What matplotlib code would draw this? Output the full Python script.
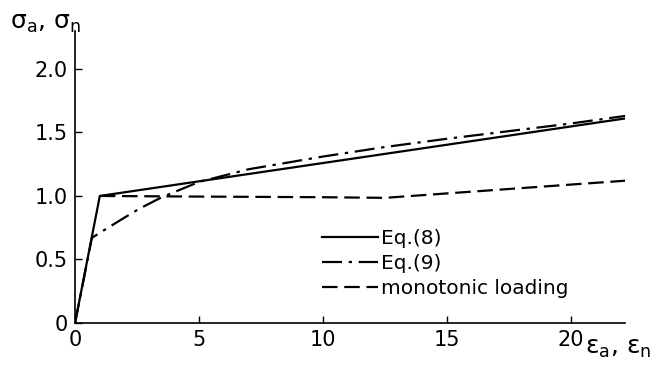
import matplotlib
matplotlib.use("Agg")
import matplotlib.pyplot as plt

# curve values
eq8_x = [0, 1.0, 22.2]
eq8_y = [0, 1.0, 1.61]

eq9_x = [0, 0.68, 1.0, 1.5, 2.0, 2.6, 3.4, 4.0, 5.0, 6.0, 7.0, 8.5, 10, 12.5, 15, 17.5, 20, 22.2]
eq9_y = [0, 0.67, 0.71, 0.77, 0.83, 0.90, 0.98, 1.03, 1.11, 1.16, 1.21, 1.26, 1.31, 1.385, 1.45, 1.51, 1.57, 1.63]

mono_x = [1.0, 5, 10, 12.5, 22.2]
mono_y = [1.0, 0.995, 0.99, 0.985, 1.12]

x_ticks = [0, 5, 10, 15, 20]
x_ticklabels = ["0", "5", "10", "15", "20"]
y_ticks = [0, 0.5, 1.0, 1.5, 2.0]
y_ticklabels = ["0", "0.5", "1.0", "1.5", "2.0"]

labels = ["Eq.(8)", "Eq.(9)", "monotonic loading"]

plt.rcParams["mathtext.fontset"] = "dejavusans"

fig = plt.figure(figsize=(6.7, 3.67), dpi=100)
ax = fig.add_axes([0.112, 0.12, 0.821, 0.796])

ax.plot(eq8_x, eq8_y, color="black", lw=1.6, label=labels[0])
ax.plot(eq9_x, eq9_y, color="black", lw=1.6, dashes=(9, 3, 1.5, 3), label=labels[1])
ax.plot(mono_x, mono_y, color="black", lw=1.6, dashes=(7, 3), label=labels[2])

ax.set_xlim(0, 22.2)
ax.set_ylim(0, 2.3)
ax.spines["top"].set_visible(False)
ax.spines["right"].set_visible(False)
ax.spines["left"].set_linewidth(1.2)
ax.spines["bottom"].set_linewidth(1.2)

ax.set_xticks(x_ticks)
ax.set_xticklabels(x_ticklabels)
ax.set_yticks(y_ticks)
ax.set_yticklabels(y_ticklabels)
ax.tick_params(direction="in", length=5, width=1, labelsize=15, pad=5)

fig.text(0.015, 0.905, r"σ$_\mathrm{a}$, σ$_\mathrm{n}$", fontsize=18, ha="left", va="bottom")
fig.text(0.873, 0.02, r"ε$_\mathrm{a}$, ε$_\mathrm{n}$", fontsize=18, ha="left", va="bottom")

ax.legend(loc="upper left", bbox_to_anchor=(0.48, 0.375), bbox_transform=fig.transFigure,
          frameon=False, fontsize=14.5, handlelength=2.8, handletextpad=0.15,
          labelspacing=0.3, borderpad=0, borderaxespad=0)

fig.savefig("out.png", dpi=100)
